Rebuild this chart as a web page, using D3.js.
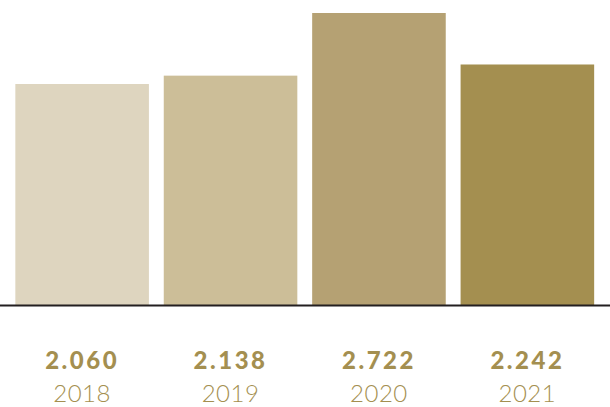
<!DOCTYPE html>
<html><head><meta charset="utf-8">
<script src="https://cdn.jsdelivr.net/npm/d3@7"></script>
<style>html,body{margin:0;padding:0;background:#fff;}svg{display:block;}</style>
</head><body>
<script>
const years = ["2018", "2019", "2020", "2021"];
const values = [2.060, 2.138, 2.722, 2.242];
const valueLabels = ["2.060", "2.138", "2.722", "2.242"];
const colors = ["#ded5bf", "#ccbe98", "#b5a173", "#a48f50"];

const W = 610, H = 407;
const svg = d3.select("body").append("svg").attr("width", W).attr("height", H);

const x = d3.scaleBand().domain(years).range([0.5, 609]).paddingInner(0.1).paddingOuter(0.1);
const y = d3.scaleLinear().domain([0, 2.722]).range([305, 13]);

svg.selectAll("rect.bar").data(years).enter().append("rect")
  .attr("class", "bar")
  .attr("x", d => x(d))
  .attr("width", x.bandwidth())
  .attr("y", (d, i) => y(values[i]))
  .attr("height", (d, i) => y(0) - y(values[i]))
  .attr("fill", (d, i) => colors[i]);

svg.append("line").attr("x1", 0).attr("x2", W).attr("y1", 305.5).attr("y2", 305.5)
  .attr("stroke", "#231f20").attr("stroke-width", 2);

svg.selectAll("text.val").data(years).enter().append("text")
  .attr("class", "val")
  .attr("x", d => x(d) + x.bandwidth() / 2)
  .attr("y", 369)
  .attr("text-anchor", "middle")
  .attr("fill", "#a48f50")
  .style("font-family", "Lato")
  .style("font-weight", 900)
  .style("font-size", "24px")
  .style("letter-spacing", "2.5px")
  .text((d, i) => valueLabels[i]);

svg.selectAll("text.yr").data(years).enter().append("text")
  .attr("class", "yr")
  .attr("x", d => x(d) + x.bandwidth() / 2)
  .attr("y", 402)
  .attr("text-anchor", "middle")
  .attr("fill", "#a48f50")
  .style("font-family", "Lato")
  .style("font-weight", 300)
  .style("font-size", "24px")
  .style("letter-spacing", "0.5px")
  .text(d => d);
</script>
</body></html>
